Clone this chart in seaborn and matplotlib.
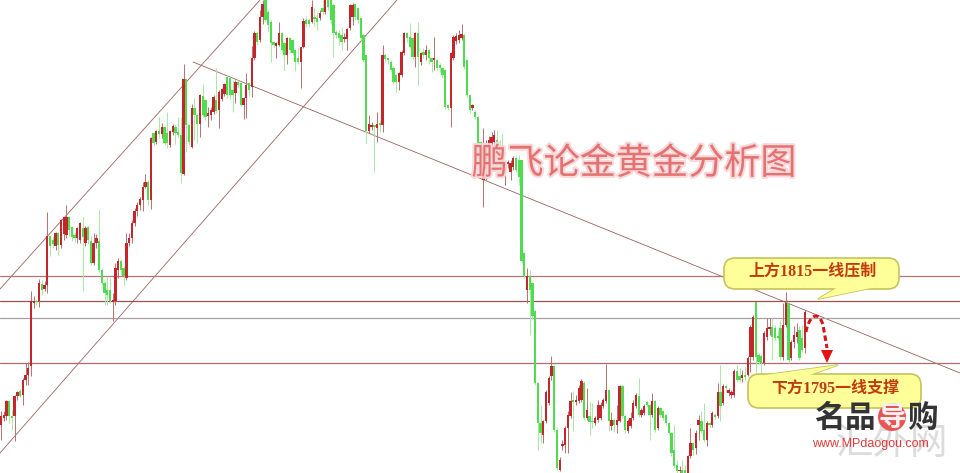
import matplotlib
matplotlib.use("Agg")
import matplotlib.pyplot as plt
import matplotlib.patheffects as pe
from matplotlib.patches import FancyBboxPatch, Polygon, PathPatch, Circle
from matplotlib.path import Path
import numpy as np
import pandas as pd
import seaborn as sns

# Gold price candles, in chart ticks above the base of the visible range
direction = list(
    "rrrggrrgrr" "rrrgrgrrgg" "rgrrrgggrr" "grggrrgggg" "grrrggrrrr"
    "rrrrgrgrgr" "ggrrgggrgg" "rggrggrrrg" "rrrgggrggr" "rgrrgrrggg"
    "grrggrgggg" "rrggrggrgr" "ggggggrrrr" "gggggrrgrg" "rgggggrrrg"
    "ggrgrgrggr" "gggggrrrrr" "gggrgggrrr" "rrgggrrrrg" "gggrgggggr"
    "rrrggrrrrr" "grrrgrggrr" "rrrgrgrrgg" "rrrrgrrggr" "grgggggggr"
    "ggrrgrrggr" "grgrgrgrrr" "ggrgrrrggg" "rrrggggrrg" "rrrggr"
)
body_top = [
    57,58,72,72,57,77,81,82,93,98,
    105,172,172,172,190,189,188,237,237,233,
    240,240,253,256,256,256,246,238,245,250,
    245,245,246,232,230,235,232,203,190,183,
    183,173,205,212,212,205,230,235,250,262,
    268,274,286,291,291,335,340,342,342,346,
    346,340,342,347,346,341,338,394,394,348,
    365,365,358,378,377,373,360,363,376,373,
    381,384,389,396,395,383,391,391,390,375,
    388,390,415,440,440,456,469,473,461,451,
    431,430,440,440,430,435,435,433,423,415,
    426,452,453,453,466,456,455,460,465,473,
    473,473,468,441,440,438,435,444,468,468,
    469,465,455,438,418,349,348,348,349,350,
    418,418,415,411,405,398,400,421,440,440,
    436,435,440,440,420,421,423,423,415,415,
    413,408,405,403,368,420,436,437,438,439,
    438,413,378,368,361,356,331,326,328,333,
    336,338,333,326,316,310,310,310,315,315,
    313,313,220,197,197,190,162,90,50,52,
    81,95,107,107,43,13,29,45,58,72,
    73,73,85,92,90,63,57,52,55,68,
    68,73,83,83,53,53,53,87,87,57,
    52,55,70,78,77,63,67,71,68,72,
    72,65,65,62,58,50,40,23,8,3,
    3,3,17,30,30,40,53,52,43,50,
    50,60,58,81,81,87,87,83,81,102,
    102,97,98,98,115,146,156,171,118,117,
    140,145,146,146,145,137,145,148,170,170,
    131,138,141,143,135,161,
]
body_bottom = [
    48,55,57,57,55,57,77,77,78,93,
    98,107,170,171,172,183,184,188,227,229,
    227,228,228,239,238,243,236,235,235,233,
    236,230,233,210,210,230,203,190,180,178,
    172,171,172,203,203,197,195,230,235,250,
    262,268,273,286,273,273,330,331,339,339,
    330,330,328,341,340,338,300,299,348,331,
    326,358,349,349,358,356,357,358,361,362,
    363,374,379,378,378,378,380,388,368,368,
    375,383,386,415,431,433,456,453,448,430,
    428,427,428,423,418,418,423,420,411,411,
    411,426,449,449,451,454,451,455,461,461,
    466,453,440,438,435,431,434,434,445,456,
    456,453,435,413,342,342,346,346,345,348,
    348,414,413,403,391,391,391,398,420,435,
    426,416,416,416,411,418,418,415,411,413,
    405,405,398,366,365,365,415,432,433,435,
    406,378,363,365,356,330,310,293,303,326,
    330,331,326,310,303,301,309,301,306,303,
    296,212,197,183,183,157,90,50,40,38,
    52,70,97,43,5,3,27,28,45,57,
    71,71,72,73,55,55,51,51,50,53,
    55,67,72,52,47,48,48,52,57,43,
    42,47,55,67,58,58,60,68,58,58,
    43,45,58,55,50,40,20,7,2,2,
    0,0,0,17,23,25,48,42,33,33,
    48,48,56,57,67,70,85,80,78,78,
    93,93,95,96,98,116,116,116,111,110,
    110,136,144,136,135,135,116,116,148,113,
    115,131,136,115,123,125,
]
wick_top = [
    62,62,73,72,63,78,82,84,95,110,
    111,182,177,174,194,193,192,261,238,237,
    241,241,254,256,268,257,247,241,246,251,
    256,247,247,237,240,239,263,205,192,197,
    195,180,210,215,214,207,240,240,253,265,
    271,276,291,299,293,336,341,343,356,350,
    347,361,343,349,349,356,356,409,394,349,
    369,375,359,379,389,374,366,366,378,405,
    383,385,390,397,396,393,393,393,391,376,
    400,391,427,442,441,463,473,473,463,453,
    432,431,451,441,431,436,436,434,424,425,
    426,455,457,455,473,465,461,463,473,473,
    473,473,470,443,443,446,440,445,469,470,
    470,466,456,439,418,358,351,348,361,353,
    428,419,416,413,407,399,401,423,441,441,
    450,436,441,451,421,425,428,424,416,436,
    414,410,406,404,369,421,438,440,443,449,
    439,414,379,369,363,357,332,345,333,337,
    341,343,343,333,339,311,313,313,317,317,
    318,313,221,205,203,191,163,91,68,53,
    83,97,117,108,45,16,33,47,62,81,
    82,78,88,94,92,85,72,70,57,73,
    71,75,109,84,61,55,68,88,88,58,
    54,61,73,80,95,65,69,72,69,80,
    73,67,66,63,59,51,41,48,13,7,
    13,8,18,45,31,43,58,62,70,52,
    52,62,60,90,108,89,89,85,83,104,
    108,105,103,106,117,148,158,171,120,119,
    142,155,155,155,148,143,153,170,181,170,
    133,147,150,147,148,163,
]
wick_bottom = [
    33,52,53,50,43,32,73,76,68,88,
    88,97,165,168,166,178,182,180,217,225,
    223,218,225,233,235,237,232,231,230,230,
    182,227,229,208,208,225,201,188,168,168,
    170,152,168,195,198,188,193,227,230,247,
    257,263,262,285,268,264,327,329,335,335,
    328,325,326,338,329,336,290,298,321,328,
    325,333,330,336,356,353,346,353,359,360,
    345,372,377,375,374,361,370,385,367,354,
    355,377,376,413,428,431,449,451,441,411,
    426,415,427,421,403,409,420,418,402,409,
    385,425,446,446,450,447,443,453,458,459,
    463,449,416,435,428,423,431,423,443,448,
    453,450,433,411,330,340,343,301,331,341,
    341,411,409,401,389,381,383,396,418,431,
    425,413,406,388,408,415,413,409,401,403,
    403,401,395,364,363,346,413,429,430,433,
    404,376,360,363,354,328,308,266,293,323,
    326,327,323,308,301,288,305,293,303,301,
    288,210,195,170,138,153,88,23,30,30,
    50,68,93,41,3,2,23,20,20,55,
    42,68,70,71,53,53,38,45,48,51,
    53,65,70,42,43,41,40,51,55,40,
    40,45,53,65,56,56,58,66,33,56,
    41,43,56,53,48,38,17,5,0,0,
    0,0,0,15,18,19,33,40,31,27,
    46,46,54,55,52,68,81,77,75,76,
    91,91,91,93,97,101,113,101,109,100,
    108,133,138,113,133,133,113,113,146,110,
    113,125,130,113,121,120,
]
candle_no = list(range(1, len(direction) + 1))

# Horizontal levels and trend lines, in the same units
levels = [197, 172, 155, 110]
level_colors = ["#b87474", "#9c5050", "#aaa0a0", "#ae6c6c"]
channel_upper_x, channel_upper_y = [0.633, 96.05], [184, 473]
channel_lower_x, channel_lower_y = [0.633, 146.3], [20, 473]
resistance_x, resistance_y = [71.46, 352.9], [411, 100]

title_text = "鹏飞论金黄金分析图"
upper_note = "上方1815一线压制"
lower_note = "下方1795一线支撑"
url_text = "www.MPdaogou.com"

sns.set_theme(style="white")
plt.rcParams["font.family"] = ["Noto Sans CJK SC", "DejaVu Sans"]

df = pd.DataFrame({"no": candle_no, "dir": direction, "top": body_top,
                   "bottom": body_bottom, "high": wick_top, "low": wick_bottom})

fig = plt.figure(figsize=(9.6, 4.73), dpi=100, facecolor="white")
ax = fig.add_axes([0, 0, 1, 1])
ax.set_xlim(0.633, 352.9)
ax.set_ylim(0, 473)
ax.axis("off")

line_c = "#9a625e"
for name, (xs, ys) in {"u": (channel_upper_x, channel_upper_y),
                       "l": (channel_lower_x, channel_lower_y),
                       "r": (resistance_x, resistance_y)}.items():
    sns.lineplot(x=xs, y=ys, ax=ax, color=line_c, linewidth=0.6, zorder=1, errorbar=None)
for lv, col in zip(levels, level_colors):
    ax.axhline(lv, color=col, linewidth=0.9, zorder=1)

styles = {"r": ("#c4262c", "#b87070"), "g": ("#4fdc4f", "#a8e8a8")}
for d, (body_c, wick_c) in styles.items():
    s = df[df["dir"] == d]
    ax.vlines(s["no"], s["low"], s["high"], color=wick_c, linewidth=0.7, zorder=2)
    ax.bar(s["no"], (s["top"] - s["bottom"]).clip(lower=1.5), bottom=s["bottom"],
           width=0.85, color=body_c, linewidth=0, zorder=3)

# Annotation layer
ov = fig.add_axes([0, 0, 1, 1], facecolor="none")
ov.set_xlim(0, 960)
ov.set_ylim(473, 0)
ov.axis("off")

ov.text(634, 164, title_text, fontsize=26, color="#e46a6a", alpha=0.92, ha="center", va="center",
        path_effects=[pe.withStroke(linewidth=3, foreground="#f7d6d6")], zorder=6)

fill, edge = "#ffff99", "#c4c45a"
note_font = ["Liberation Serif", "Noto Sans CJK SC"]


def callout(x0, y0, x1, y1, tail, text, tx, ty):
    ov.add_patch(Polygon(tail, closed=True, facecolor=fill, edgecolor=edge, linewidth=1.2, zorder=7))
    ov.add_patch(FancyBboxPatch((x0 + 9, y0 + 9), x1 - x0 - 18, y1 - y0 - 18,
                                boxstyle="round,pad=9,rounding_size=11", facecolor=fill,
                                edgecolor=edge, linewidth=1.2, zorder=7))
    ov.add_patch(Polygon(tail, closed=True, facecolor=fill, edgecolor="none", zorder=7.5))
    ov.text(tx, ty, text, fontsize=11.5, fontweight="bold", family=note_font, color="#c23a10",
            ha="center", va="center", zorder=8)


callout(724, 258, 899, 289, [(838, 287), (818, 299), (876, 287)], upper_note, 812, 272)
callout(748, 374, 921, 408, [(758, 376), (838, 365), (807, 376)], lower_note, 835, 389)

arc = Path([(806, 332), (808, 318), (818, 308), (823, 325), (827, 348)],
           [Path.MOVETO, Path.CURVE4, Path.CURVE4, Path.CURVE4, Path.LINETO])
ov.add_patch(PathPatch(arc, facecolor="none", edgecolor="#d81414", linewidth=2.2,
                       linestyle=(0, (1.8, 1.0)), zorder=8))
ov.add_patch(Polygon([(821, 350), (833, 350), (827, 363)], closed=True,
                     facecolor="#e01414", edgecolor="none", zorder=8))

ov.text(892, 443, "汇外网", fontsize=27, color="#dcdcdc", ha="center", va="center", zorder=8)
for cx, ch in [(829, "名"), (860, "品"), (922, "购")]:
    ov.text(cx, 418, ch, fontsize=22, fontweight="bold", color="#333333",
            ha="center", va="center", zorder=9)
ov.add_patch(Circle((892, 417), 14, facecolor="#e85454", edgecolor="none", zorder=9))
ov.text(892, 418, "导", fontsize=20, fontweight="bold", color="#f6f0f0",
        ha="center", va="center", zorder=10)
ov.text(870, 444, url_text, fontsize=9, family="Liberation Sans", color="#e03c3c",
        ha="center", va="center", zorder=10)

fig.savefig("out.png", dpi=100, facecolor="white")
